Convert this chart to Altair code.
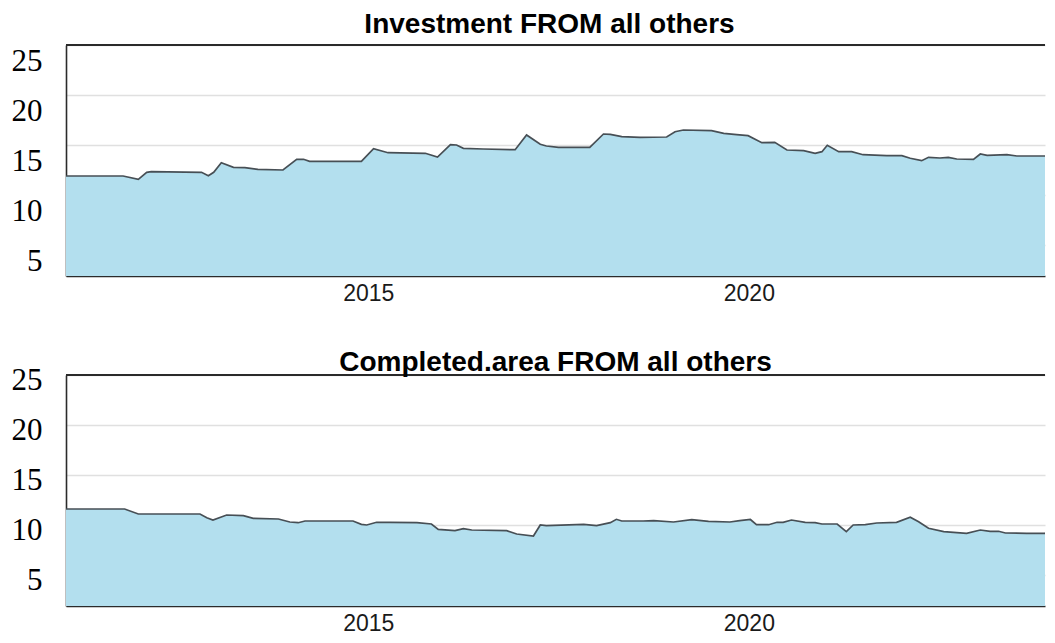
import altair as alt
import pandas as pd

TITLES = ["Investment FROM all others", "Completed.area FROM all others"]
X_TICKS = [2015, 2020]
Y_TICKS = [5, 10, 15, 20, 25]
X_DOMAIN = [2011.03, 2023.89]
Y_DOMAIN = [1.9, 25]

inv_year = [2011.03, 2011.78, 2011.98, 2012.09, 2012.15, 2012.81, 2012.90, 2012.97, 2013.07, 2013.23,
            2013.38, 2013.55, 2013.88, 2014.06, 2014.15, 2014.23, 2014.91, 2015.07, 2015.26, 2015.75,
            2015.91, 2016.08, 2016.16, 2016.25, 2016.51, 2016.93, 2017.08, 2017.26, 2017.34, 2017.50,
            2017.91, 2018.09, 2018.18, 2018.33, 2018.57, 2018.92, 2019.03, 2019.14, 2019.51, 2019.67,
            2019.84, 2019.99, 2020.17, 2020.34, 2020.50, 2020.72, 2020.87, 2020.96, 2021.03, 2021.18,
            2021.35, 2021.50, 2021.81, 2022.01, 2022.12, 2022.27, 2022.36, 2022.51, 2022.62, 2022.73,
            2022.95, 2023.04, 2023.13, 2023.39, 2023.52, 2023.91, 2024.02]
inv_val = [11.9, 11.9, 11.57, 12.27, 12.33, 12.27, 11.93, 12.27, 13.23, 12.77,
           12.73, 12.57, 12.5, 13.57, 13.57, 13.37, 13.37, 14.63, 14.23, 14.17,
           13.8, 15.03, 15.0, 14.67, 14.6, 14.53, 16.0, 15.07, 14.9, 14.77,
           14.77, 16.1, 16.07, 15.83, 15.77, 15.8, 16.33, 16.5, 16.43, 16.17,
           16.03, 15.93, 15.23, 15.27, 14.5, 14.43, 14.17, 14.33, 14.97, 14.33,
           14.33, 14.03, 13.93, 13.93, 13.67, 13.43, 13.77, 13.7, 13.77, 13.6,
           13.57, 14.1, 13.97, 14.03, 13.9, 13.9, 14.03]

cmp_year = [2011.03, 2011.80, 2011.98, 2012.79, 2012.88, 2012.96, 2013.14, 2013.36, 2013.49, 2013.82,
            2013.97, 2014.08, 2014.17, 2014.80, 2014.91, 2014.98, 2015.11, 2015.29, 2015.64, 2015.83,
            2015.92, 2016.14, 2016.25, 2016.36, 2016.82, 2016.95, 2017.17, 2017.26, 2017.34, 2017.83,
            2018.00, 2018.18, 2018.26, 2018.33, 2018.61, 2018.75, 2019.01, 2019.25, 2019.47, 2019.75,
            2019.88, 2020.02, 2020.10, 2020.26, 2020.37, 2020.45, 2020.56, 2020.74, 2020.87, 2020.96,
            2021.16, 2021.28, 2021.37, 2021.53, 2021.68, 2021.94, 2022.12, 2022.23, 2022.36, 2022.56,
            2022.86, 2023.04, 2023.17, 2023.28, 2023.37, 2023.65, 2023.89, 2024.02]
cmp_val = [11.6, 11.6, 11.1, 11.1, 10.73, 10.5, 11.0, 10.93, 10.67, 10.6,
           10.3, 10.23, 10.4, 10.4, 10.07, 10.0, 10.27, 10.27, 10.23, 10.1,
           9.57, 9.43, 9.63, 9.5, 9.43, 9.1, 8.9, 10.0, 9.93, 10.07,
           9.93, 10.23, 10.57, 10.4, 10.4, 10.43, 10.3, 10.53, 10.37, 10.3,
           10.43, 10.55, 10.03, 10.03, 10.27, 10.27, 10.5, 10.27, 10.23, 10.1,
           10.1, 9.33, 10.0, 10.03, 10.2, 10.27, 10.77, 10.33, 9.67, 9.33,
           9.17, 9.5, 9.37, 9.37, 9.2, 9.17, 9.17, 9.6]

FILL = "#b3dfee"
LINE = "#474f55"
BORDER = "#2b2b2b"


def panel(years, values, title, label_offset, title_offset, title_dx):
    df = pd.DataFrame({"year": years, "value": values})
    x = alt.X(
        "year:Q",
        scale=alt.Scale(domain=X_DOMAIN, nice=False, zero=False),
        axis=alt.Axis(values=X_TICKS, format="d", title=None, grid=False, ticks=False,
                      labelFont="Liberation Sans", labelFontSize=23, labelColor="#1a1a1a",
                      labelPadding=6, domainColor=BORDER, domainWidth=1.6),
    )
    y = alt.Y(
        "value:Q",
        scale=alt.Scale(domain=Y_DOMAIN, nice=False, zero=False),
        axis=alt.Axis(values=Y_TICKS, title=None, grid=True, gridColor="#e0e0e0", gridWidth=1.5,
                      ticks=False, labelFont="Liberation Serif", labelFontSize=31, labelColor="black",
                      labelPadding=24, labelOffset=label_offset, minExtent=58, maxExtent=58,
                      domainColor=BORDER, domainWidth=1.6),
    )
    area = alt.Chart(df).mark_area(
        clip=True, color=FILL, opacity=1, line={"color": LINE, "strokeWidth": 1.7}
    ).encode(x=x, y=y, y2=alt.datum(Y_DOMAIN[0]))
    border = alt.Chart(df).mark_rule(color=BORDER, strokeWidth=1.6).encode(y=alt.datum(Y_DOMAIN[1]))
    return alt.layer(area, border).properties(
        width=979, height=231,
        title=alt.Title(title, fontSize=28, font="Liberation Sans", fontWeight="bold",
                        offset=title_offset, baseline="alphabetic", anchor="middle", color="black",
                        dx=title_dx),
    )


top = panel(inv_year, inv_val, TITLES[0], 16, -17, -6)
bottom = panel(cmp_year, cmp_val, TITLES[1], 5, -35, 0)

chart = alt.vconcat(top, bottom, spacing=44).configure_view(stroke=None).properties(
    padding={"left": 0, "top": 3, "right": 0, "bottom": 0}
)
chart.save("out.html", embed_options={"renderer": "svg", "actions": False})
